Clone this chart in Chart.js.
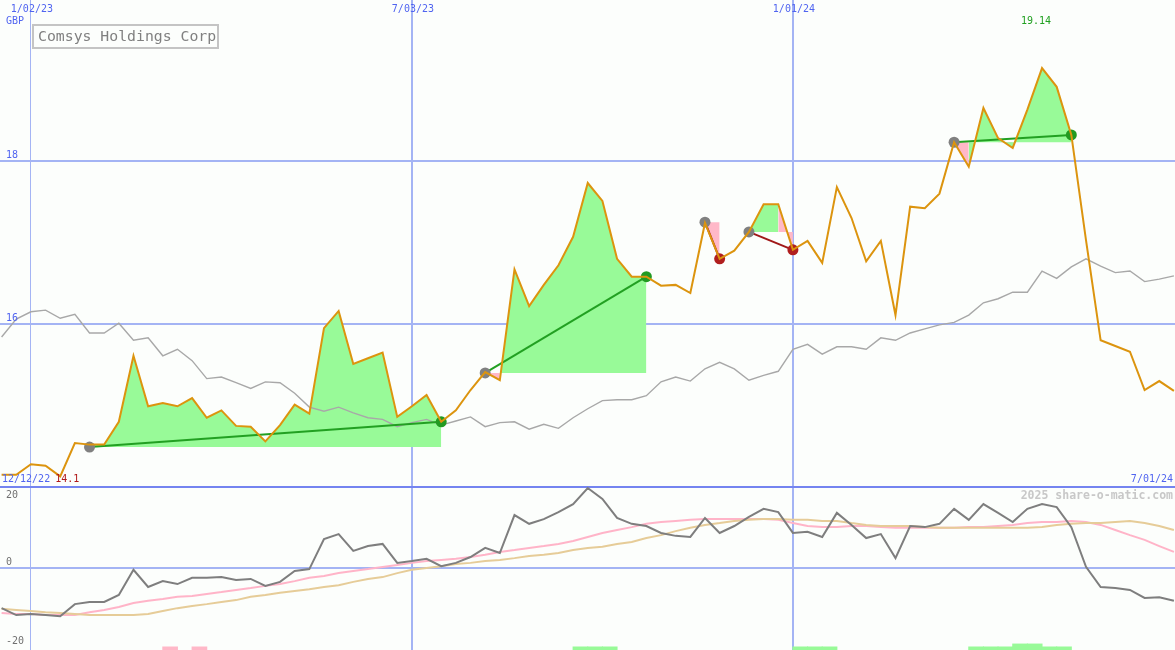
<!DOCTYPE html>
<html>
<head>
<meta charset="utf-8">
<title>Comsys Holdings Corp</title>
<script src="https://cdn.jsdelivr.net/npm/chart.js"></script>
<style>
  html, body { margin: 0; padding: 0; background: #fcfefc; }
  #wrap { position: relative; width: 1175px; height: 650px; }
</style>
</head>
<body>
<div id="wrap"><canvas id="shareChart"></canvas></div>
<script>
// Weekly data, week 0 = 19 Dec 2022 (one point per week)
const closePrices = [
  14.15, 14.15, 14.28, 14.26, 14.13, 14.54, 14.52, 14.52, 14.80, 15.61,
  14.99, 15.03, 14.99, 15.09, 14.85, 14.94, 14.75, 14.74, 14.56, 14.76,
  15.01, 14.90, 15.95, 16.16, 15.51, 15.58, 15.65, 14.86, 14.99, 15.13,
  14.80, 14.94, 15.19, 15.41, 15.31, 16.67, 16.22, 16.48, 16.72, 17.07,
  17.73, 17.51, 16.80, 16.58, 16.58, 16.47, 16.48, 16.38, 17.24, 16.80,
  16.90, 17.13, 17.47, 17.47, 16.91, 17.02, 16.75, 17.68, 17.30, 16.77,
  17.02, 16.11, 17.44, 17.42, 17.60, 18.23, 17.93, 18.65, 18.28, 18.16,
  18.63, 19.14, 18.91, 18.32, 17.03, 15.80, 15.73, 15.66, 15.19, 15.30, 15.18
];

// Slow moving average drawn in light grey
const movingAverage = [
  15.84, 16.06, 16.15, 16.17, 16.07, 16.12, 15.89, 15.89, 16.01, 15.80,
  15.83, 15.61, 15.69, 15.55, 15.33, 15.35, 15.28, 15.21, 15.29, 15.28,
  15.15, 14.98, 14.93, 14.98, 14.91, 14.85, 14.83, 14.74, 14.79, 14.83,
  14.76, 14.81, 14.86, 14.74, 14.79, 14.80, 14.71, 14.77, 14.72, 14.85,
  14.96, 15.06, 15.07, 15.07, 15.12, 15.29, 15.35, 15.30, 15.45, 15.53,
  15.45, 15.31, 15.37, 15.42, 15.69, 15.75, 15.63, 15.72, 15.72, 15.69,
  15.83, 15.80, 15.89, 15.94, 15.99, 16.02, 16.11, 16.26, 16.31, 16.39,
  16.39, 16.65, 16.56, 16.70, 16.80, 16.71, 16.63, 16.65, 16.52, 16.55, 16.59
];

// Lower panel: oscillator (dark grey) and its two signal lines
const oscillator = [
  -11.0, -12.9, -12.6, -12.9, -13.2, -9.9, -9.3, -9.3, -7.4, -0.5,
  -5.2, -3.6, -4.4, -2.7, -2.7, -2.5, -3.3, -3.0, -4.9, -3.8,
  -0.8, -0.3, 7.9, 9.3, 4.7, 6.0, 6.6, 1.4, 1.9, 2.5,
  0.5, 1.4, 3.0, 5.5, 4.1, 14.5, 12.1, 13.4, 15.3, 17.5,
  21.9, 18.9, 13.7, 12.1, 11.5, 9.6, 8.8, 8.5, 13.7, 9.6,
  11.5, 14.0, 16.2, 15.3, 9.6, 9.9, 8.5, 15.1, 11.8, 8.2,
  9.3, 2.7, 11.5, 11.2, 12.1, 16.2, 13.2, 17.5, 15.1, 12.6,
  16.2, 17.5, 16.7, 11.2, 0.3, -5.2, -5.5, -6.0, -8.2, -8.0, -9.0
];
const signalFast = [
  -12.3, -12.6, -12.6, -12.9, -12.9, -12.9, -12.1, -11.5, -10.7, -9.6,
  -9.0, -8.5, -7.9, -7.7, -7.1, -6.6, -6.0, -5.5, -4.9, -4.4,
  -3.6, -2.7, -2.2, -1.4, -0.8, -0.3, 0.3, 0.8, 1.4, 1.9,
  2.2, 2.5, 3.0, 3.6, 4.4, 4.9, 5.5, 6.0, 6.6, 7.4,
  8.5, 9.6, 10.4, 11.2, 12.1, 12.6, 12.9, 13.2, 13.4, 13.4,
  13.4, 13.4, 13.4, 13.2, 12.3, 11.5, 11.2, 11.2, 11.5, 11.5,
  11.2, 11.0, 11.0, 11.0, 11.0, 11.0, 11.2, 11.2, 11.5, 11.8,
  12.3, 12.6, 12.6, 12.9, 12.6, 11.8, 10.4, 9.0, 7.7, 6.0, 4.4
];
const signalSlow = [
  -11.2, -11.5, -11.8, -12.1, -12.3, -12.6, -12.9, -12.9, -12.9, -12.9,
  -12.6, -11.8, -11.0, -10.4, -9.9, -9.3, -8.8, -7.9, -7.4, -6.8,
  -6.3, -5.8, -5.2, -4.7, -3.8, -3.0, -2.5, -1.4, -0.5, 0.0,
  0.5, 1.1, 1.4, 1.9, 2.2, 2.7, 3.3, 3.6, 4.1, 4.9,
  5.5, 5.8, 6.6, 7.1, 8.2, 9.0, 10.1, 11.0, 11.8, 12.3,
  12.9, 13.2, 13.4, 13.4, 13.2, 13.2, 12.9, 12.9, 12.3, 11.8,
  11.5, 11.5, 11.5, 11.2, 11.0, 11.0, 11.0, 11.0, 11.0, 11.0,
  11.0, 11.2, 11.8, 12.1, 12.3, 12.3, 12.6, 12.9, 12.3, 11.5, 10.4
];

// Trades: entry/exit week and price
const tradeEntryWeek = [6, 33, 48, 51, 65];
const tradeExitWeek = [30, 44, 49, 54, 73];
const tradeEntryPrice = [14.49, 15.40, 17.25, 17.13, 18.23];
const tradeExitPrice = [14.80, 16.58, 16.80, 16.91, 18.32];

// Small signal bars along the bottom edge (buy = green, sell = pink)
const barWeeks = [11.5, 13.5, 39.5, 40.5, 41.5, 54.5, 55.5, 56.5, 66.5, 67.5, 68.5, 69.5, 70.5, 71.5, 72.5];
const barTops = [-21.6, -21.6, -21.6, -21.6, -21.6, -21.6, -21.6, -21.6, -21.6, -21.6, -21.6, -20.8, -20.8, -21.6, -21.6];
const barIsBuy = [false, false, true, true, true, true, true, true, true, true, true, true, true, true, true];
const barBase = -23;

// Axis labels
const gridWeeks = [2, 28, 54];
const gridDates = ['1/02/23', '7/03/23', '1/01/24'];
const priceTicks = [16, 18];
const oscTicks = [20, 0, -20];
const panelSplit = 22.2;   // top edge of lower panel, in oscillator units
const startDate = '12/12/22';
const endDate = '7/01/24';
const currency = 'GBP';
const companyName = 'Comsys Holdings Corp';
const watermark = '2025 share-o-matic.com';

// Colours
const ORANGE = '#dc940e';
const MA_GRAY = '#a8a8a8';
const OSC_GRAY = '#7e7e7e';
const PINK_LINE = '#ffb4c8';
const TAN_LINE = '#e6cc98';
const GREEN_FILL = '#98fa98';
const PINK_FILL = '#ffb8c8';
const GREEN_LINE = '#22a022';
const RED_LINE = '#a01818';
const GREEN_DOT = '#229a22';
const RED_DOT = '#b01e1e';
const GRAY_DOT = '#808080';
const GRID = '#a4b4f4';
const SEPARATOR = '#7484f0';
const LABEL_BLUE = '#5064f0';

const toPoints = arr => arr.map((v, i) => ({ x: i, y: v }));

const datasets = [];

// Price line on top of everything
datasets.push({
  label: 'Close',
  data: toPoints(closePrices),
  borderColor: ORANGE,
  borderWidth: 2,
  pointRadius: 0,
  tension: 0,
  yAxisID: 'y',
  order: 0
});

tradeEntryWeek.forEach((start, t) => {
  const end = tradeExitWeek[t];
  const entry = tradeEntryPrice[t];
  const win = tradeExitPrice[t] > entry;

  // entry -> exit line with the two markers
  datasets.push({
    data: [{ x: start, y: entry }, { x: end, y: tradeExitPrice[t] }],
    borderColor: win ? GREEN_LINE : RED_LINE,
    borderWidth: 2,
    pointRadius: 5.5,
    pointBorderWidth: 0,
    pointBackgroundColor: [GRAY_DOT, win ? GREEN_DOT : RED_DOT],
    yAxisID: 'y',
    order: 1
  });

  // shaded area against the entry level, each week coloured by its close
  const up = [], down = [];
  for (let i = start; i <= end; i++) {
    up.push({ x: i, y: null });
    down.push({ x: i, y: null });
  }
  for (let i = start; i < end; i++) {
    const side = closePrices[i + 1] >= entry ? up : down;
    side[i - start] = { x: i, y: closePrices[i] };
    side[i - start + 1] = { x: i + 1, y: closePrices[i + 1] };
  }
  [[up, GREEN_FILL], [down, PINK_FILL]].forEach(([pts, col]) => {
    datasets.push({
      data: pts,
      borderWidth: 0,
      borderColor: 'rgba(0,0,0,0)',
      backgroundColor: col,
      pointRadius: 0,
      spanGaps: false,
      fill: { target: { value: entry }, above: col, below: col },
      yAxisID: 'y',
      order: 4
    });
  });
});

datasets.push({
  label: 'Average',
  data: toPoints(movingAverage),
  borderColor: MA_GRAY,
  borderWidth: 1.4,
  pointRadius: 0,
  yAxisID: 'y',
  order: 2
});

// Lower panel
datasets.push({
  label: 'Oscillator',
  data: toPoints(oscillator),
  borderColor: OSC_GRAY,
  borderWidth: 2,
  pointRadius: 0,
  yAxisID: 'yo',
  order: 0
});
datasets.push({
  label: 'Slow',
  data: toPoints(signalSlow),
  borderColor: TAN_LINE,
  borderWidth: 2,
  pointRadius: 0,
  yAxisID: 'yo',
  order: 1
});
datasets.push({
  label: 'Fast',
  data: toPoints(signalFast),
  borderColor: PINK_LINE,
  borderWidth: 2,
  pointRadius: 0,
  yAxisID: 'yo',
  order: 2
});
datasets.push({
  type: 'bar',
  label: 'Signals',
  data: barWeeks.map((w, k) => ({ x: w, y: [barBase, barTops[k]] })),
  backgroundColor: barIsBuy.map(b => b ? GREEN_FILL : PINK_FILL),
  borderWidth: 0,
  barThickness: 15,
  yAxisID: 'yo',
  order: 5
});

const lowWeek = closePrices.indexOf(Math.min(...closePrices));
const highWeek = closePrices.indexOf(Math.max(...closePrices));

// All the text drawn on the canvas
const labelPlugin = {
  id: 'shareLabels',
  afterDraw(chart) {
    const { ctx, scales } = chart;
    const sx = scales.x, sy = scales.y, so = scales.yo;
    const mono = '"DejaVu Sans Mono", monospace';
    ctx.save();
    ctx.textBaseline = 'middle';
    ctx.font = '10px ' + mono;
    ctx.fillStyle = LABEL_BLUE;

    ctx.textAlign = 'center';
    gridWeeks.forEach((w, k) => ctx.fillText(gridDates[k], sx.getPixelForValue(w) + 1, 9));

    ctx.textAlign = 'left';
    ctx.fillText(currency, 6, 21);
    priceTicks.forEach(v => ctx.fillText(String(v), 6, sy.getPixelForValue(v) - 6));
    ctx.fillText(startDate, 2, 479);

    ctx.textAlign = 'right';
    ctx.fillText(endDate, 1173, 479);

    // high / low
    ctx.fillStyle = '#20a020';
    ctx.textAlign = 'center';
    ctx.fillText(Math.max(...closePrices).toFixed(2), sx.getPixelForValue(highWeek) - 6, 21);
    ctx.fillStyle = '#b01818';
    ctx.textAlign = 'left';
    ctx.fillText(Math.min(...closePrices).toFixed(1), sx.getPixelForValue(lowWeek) - 5, 479);

    // oscillator scale
    ctx.fillStyle = '#707070';
    oscTicks.forEach(v => {
      const py = so.getPixelForValue(v) - (v === 0 ? 6 : 0);
      ctx.fillText(String(v), 6, py);
    });

    // watermark
    ctx.font = 'bold 11.5px ' + mono;
    ctx.fillStyle = '#c8c8c8';
    ctx.textAlign = 'right';
    ctx.fillText(watermark, 1173, 496);

    // title box
    ctx.strokeStyle = '#c4c4c4';
    ctx.lineWidth = 2;
    ctx.strokeRect(33, 25, 185, 23);
    ctx.font = '14.8px ' + mono;
    ctx.fillStyle = '#808080';
    ctx.textAlign = 'left';
    ctx.fillText(companyName, 38, 37);
    ctx.restore();
  }
};

const hiddenTicks = { display: false };

new Chart(document.getElementById('shareChart'), {
  type: 'line',
  data: { datasets },
  plugins: [labelPlugin],
  options: {
    responsive: true,
    maintainAspectRatio: false,
    devicePixelRatio: 1,
    animation: false,
    events: [],
    layout: { padding: 0, autoPadding: false },
    plugins: { legend: { display: false }, tooltip: { enabled: false } },
    elements: { line: { tension: 0 } },
    scales: {
      x: {
        type: 'linear',
        min: -0.109,
        max: 80.074,
        offset: false,
        ticks: hiddenTicks,
        border: { display: false },
        grid: {
          offset: false,
          color: GRID,
          // the first date line is drawn thinner in the original
          lineWidth: c => (c.index === 0 ? 1 : 2),
          drawTicks: false
        },
        afterBuildTicks: s => { s.ticks = gridWeeks.map(v => ({ value: v })); }
      },
      y: {
        type: 'linear',
        position: 'left',
        min: 12.0,
        max: 19.9755,
        ticks: hiddenTicks,
        border: { display: false },
        grid: { color: GRID, lineWidth: 2, drawTicks: false },
        afterBuildTicks: s => { s.ticks = priceTicks.map(v => ({ value: v })); }
      },
      yo: {
        type: 'linear',
        position: 'left',
        min: -22.47,
        max: 155.62,
        ticks: hiddenTicks,
        border: { display: false },
        grid: {
          color: c => (c.tick && c.tick.value === 0 ? GRID : SEPARATOR),
          lineWidth: 2,
          drawTicks: false
        },
        afterBuildTicks: s => { s.ticks = [{ value: 0 }, { value: panelSplit }]; }
      }
    }
  }
});
</script>
</body>
</html>
